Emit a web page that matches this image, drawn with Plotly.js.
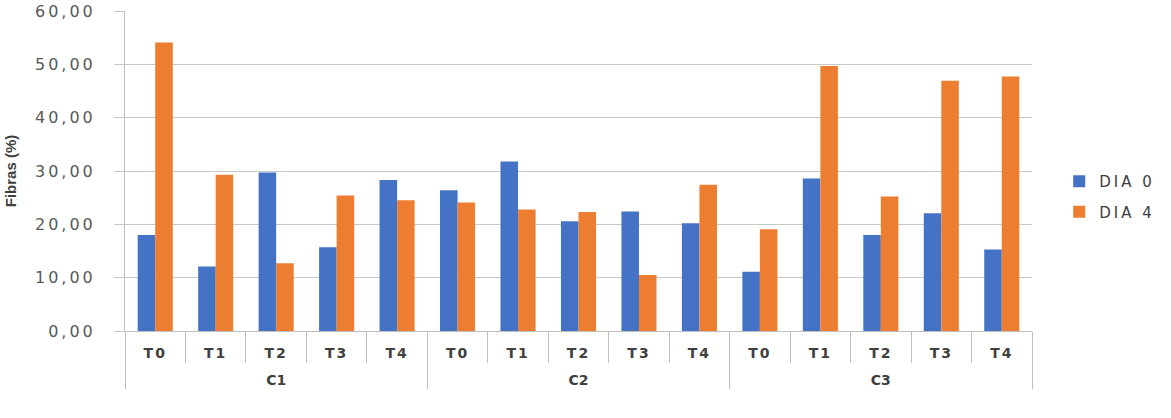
<!DOCTYPE html>
<html><head><meta charset="utf-8">
<script src="https://cdn.plot.ly/plotly-3.0.1.min.js"></script>
<style>html,body{margin:0;padding:0;background:#fff}#chart{width:1171px;height:418px}
.ytick text{letter-spacing:3px}
.xtick text{letter-spacing:2px}
.legendtext{letter-spacing:3px}
</style>
</head><body><div id="chart"></div>
<script>
const groupNames = ["C1", "C2", "C3"];
const treatments = ["T0", "T1", "T2", "T3", "T4"];
const dia0 = [18.0, 12.1, 29.7, 15.7, 28.3, 26.4, 31.8, 20.6, 22.4, 20.2, 11.1, 28.6, 18.0, 22.1, 15.3];
const dia4 = [54.1, 29.3, 12.7, 25.4, 24.5, 24.1, 22.8, 22.3, 10.5, 27.4, 19.1, 49.7, 25.2, 46.9, 47.7];
const yTicks = [0, 10, 20, 30, 40, 50, 60];
const yTickText = ["0,00", "10,00", "20,00", "30,00", "40,00", "50,00", "60,00"];

// group labels are shown one line lower than the treatment labels
const outer = [], inner = [];
groupNames.forEach(g => treatments.forEach(t => { outer.push("<br>" + g); inner.push(t); }));

const traces = [
  {type: "bar", name: "DIA 0", legendgroup: "a", x: [outer, inner], y: dia0, marker: {color: "#4472C4"}},
  {type: "bar", name: "DIA 4", legendgroup: "b", x: [outer, inner], y: dia4, marker: {color: "#ED7D31"}},
  // empty helper trace so the tick-only overlay axis is drawn
  {type: "scatter", mode: "markers", x: [], y: [], xaxis: "x", yaxis: "y2", showlegend: false, hoverinfo: "skip"}
];

const layout = {
  width: 1171, height: 418,
  margin: {l: 125, r: 139, t: 11, b: 87},
  paper_bgcolor: "#fff", plot_bgcolor: "#fff",
  barmode: "group", bargap: 0.42, bargroupgap: 0,
  showlegend: true,
  legend: {x: 1.03, xanchor: "left", y: 0.42, yanchor: "middle",
           font: {family: "DejaVu Sans", size: 15, color: "#404040"}, tracegroupgap: 8},
  xaxis: {
    type: "multicategory",
    showline: true, linecolor: "#bfbfbf", linewidth: 1,
    ticks: "outside", tickson: "boundaries", ticklen: 31, tickcolor: "#bfbfbf",
    ticklabelstandoff: 9,
    showdividers: true, dividercolor: "#bfbfbf", dividerwidth: 1,
    tickfont: {family: "DejaVu Sans", size: 14, color: "#404040", weight: "bold"},
    showgrid: false
  },
  yaxis: {
    range: [0, 60], tickvals: yTicks, ticktext: yTickText,
    showline: true, linecolor: "#bfbfbf", linewidth: 1,
    showgrid: true, gridcolor: "#c8c8c8", gridwidth: 1,
    zeroline: false,
    ticks: "outside", ticklen: 25, tickcolor: "rgba(0,0,0,0)",
    tickfont: {family: "DejaVu Sans", size: 16, color: "#595959"},
    title: {text: "Fibras (%)", standoff: 14,
            font: {family: "Liberation Sans Narrow, Liberation Sans", size: 15, color: "#404040", weight: "bold"}}
  },
  yaxis2: {
    overlaying: "y", side: "left", range: [0, 60], tickvals: yTicks,
    showticklabels: false, showgrid: false, showline: false, zeroline: false,
    ticks: "outside", ticklen: 10, tickcolor: "#c8c8c8"
  }
};
Plotly.newPlot("chart", traces, layout, {displayModeBar: false, staticPlot: true});
</script></body></html>
